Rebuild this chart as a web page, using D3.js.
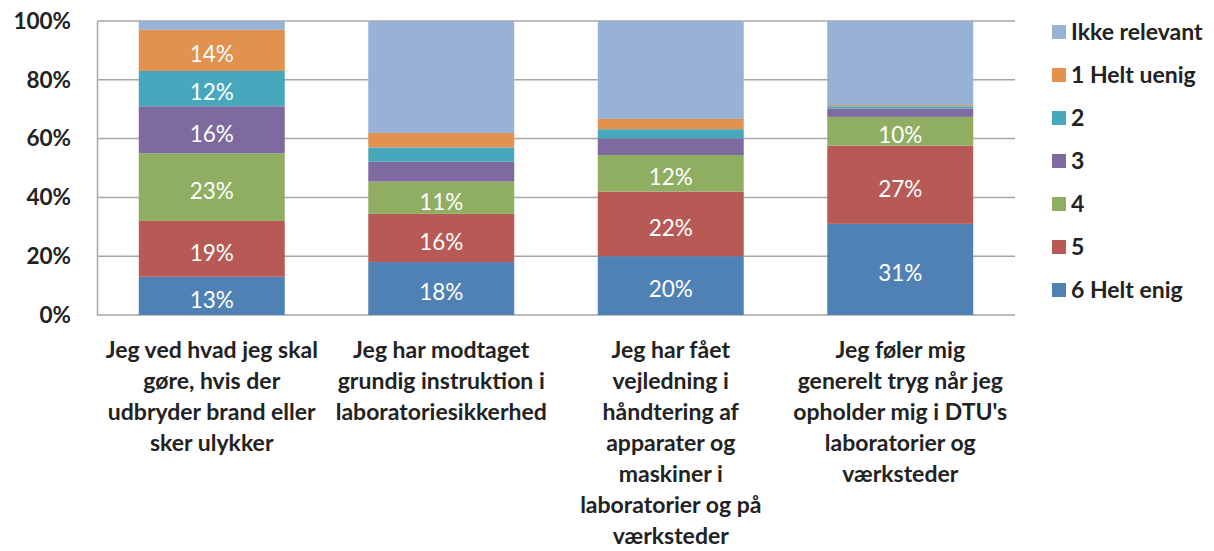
<!DOCTYPE html>
<html>
<head>
<meta charset="utf-8">
<script src="https://cdn.jsdelivr.net/npm/d3@7"></script>
<style>
  body { margin: 0; background: #fff; }
  svg { display: block; font-family: Lato, "Open Sans", sans-serif; }
</style>
</head>
<body>
<div id="chart"></div>
<script>
// Category labels, already broken into lines as in the original
var categories = [
    ["Jeg ved hvad jeg skal", "gøre, hvis der", "udbryder brand eller", "sker ulykker"],
    ["Jeg har modtaget", "grundig instruktion i", "laboratoriesikkerhed"],
    ["Jeg har fået", "vejledning i", "håndtering af", "apparater og", "maskiner i", "laboratorier og på", "værksteder"],
    ["Jeg føler mig", "generelt tryg når jeg", "opholder mig i DTU's", "laboratorier og", "værksteder"]
];

// Series, bottom to top of the stack
var seriesNames = ["6 Helt enig", "5", "4", "3", "2", "1 Helt uenig", "Ikke relevant"];
var seriesColors = ["#4f81b5", "#b75a55", "#8fae62", "#7e6a9e", "#47a8bd", "#e2914f", "#97b2d4"];

// Shares in percent, one value per category
var helt6 = [13, 18, 20, 31];
var val5 = [19, 16.4, 22, 26.6];
var val4 = [23, 11, 12.4, 9.8];
var val3 = [16, 6.7, 5.7, 2.8];
var val2 = [12, 4.9, 3.1, 0.8];
var uenig1 = [14, 4.9, 3.5, 0.4];
var ikkeRelevant = [3, 38.1, 33.3, 28.6];

var yTicks = [0, 20, 40, 60, 80, 100];

var svgWidth = 1214;
var svgHeight = 551;
var margin = { top: 21, right: 199, bottom: 236, left: 97 };
var chartWidth = svgWidth - margin.left - margin.right;
var chartHeight = svgHeight - margin.top - margin.bottom;

// Build rows for d3.stack
var columns = [helt6, val5, val4, val3, val2, uenig1, ikkeRelevant];
var rows = categories.map(function(c, i) {
    var row = { idx: i };
    seriesNames.forEach(function(s, j) { row[s] = columns[j][i]; });
    return row;
});
var stacked = d3.stack().keys(seriesNames)(rows);

var svg = d3.select("#chart").append("svg")
    .attr("width", svgWidth)
    .attr("height", svgHeight);

var chartGroup = svg.append("g")
    .attr("transform", `translate(${margin.left}, ${margin.top})`);

var xScale = d3.scaleBand()
    .domain(d3.range(categories.length))
    .range([0, chartWidth])
    .paddingInner(0.364)
    .paddingOuter(0.182);

var yScale = d3.scaleLinear()
    .domain([0, 100])
    .range([chartHeight, 0]);

// Gridlines
chartGroup.append("g")
    .selectAll("line")
    .data(yTicks)
    .enter().append("line")
    .attr("x1", 0)
    .attr("x2", chartWidth)
    .attr("y1", d => yScale(d))
    .attr("y2", d => yScale(d))
    .attr("stroke", "#a6a6a6")
    .attr("stroke-width", 1.5);

// Left axis
var leftAxis = d3.axisLeft(yScale)
    .tickValues(yTicks)
    .tickSize(0)
    .tickPadding(26)
    .tickFormat(d => d + "%");
var yAxis = chartGroup.append("g").call(leftAxis);
yAxis.select(".domain").attr("stroke", "#a6a6a6").attr("stroke-width", 1.5);
yAxis.selectAll("text")
    .attr("font-size", 22.5)
    .attr("font-weight", 700)
    .attr("font-family", "Lato, sans-serif")
    .attr("fill", "#222");

// Bars
var layers = chartGroup.selectAll(".layer")
    .data(stacked)
    .enter().append("g")
    .attr("class", "layer")
    .attr("fill", (d, i) => seriesColors[i]);

layers.selectAll("rect")
    .data(d => d)
    .enter().append("rect")
    .attr("x", d => xScale(d.data.idx))
    .attr("width", xScale.bandwidth())
    .attr("y", d => yScale(d[1]))
    .attr("height", d => yScale(d[0]) - yScale(d[1]));

// Value labels (only the larger rated segments)
layers.filter(d => d.key !== "Ikke relevant")
    .selectAll("text")
    .data(d => d.filter(p => p[1] - p[0] >= 9.5))
    .enter().append("text")
    .attr("x", d => xScale(d.data.idx) + xScale.bandwidth() / 2)
    .attr("y", d => yScale((d[0] + d[1]) / 2) + 4)
    .attr("dy", "0.35em")
    .attr("text-anchor", "middle")
    .attr("font-size", 22.5)
    .attr("fill", "#fff")
    .text(d => Math.round(d[1] - d[0]) + "%");

// Category labels
var catGroup = chartGroup.append("g");
categories.forEach(function(lines, i) {
    var t = catGroup.append("text")
        .attr("x", xScale(i) + xScale.bandwidth() / 2)
        .attr("y", chartHeight + 43)
        .attr("text-anchor", "middle")
        .attr("font-size", 23)
        .attr("font-weight", 700)
        .attr("fill", "#222");
    lines.forEach(function(line, k) {
        t.append("tspan")
            .attr("x", xScale(i) + xScale.bandwidth() / 2)
            .attr("dy", k === 0 ? 0 : 31)
            .text(line);
    });
});

// Legend, top entry is the top of the stack
var legend = svg.append("g")
    .attr("transform", "translate(1052, 32)");
var legendItems = legend.selectAll("g")
    .data(seriesNames.slice().reverse())
    .enter().append("g")
    .attr("transform", (d, i) => `translate(0, ${i * 43})`);
legendItems.append("rect")
    .attr("x", 0)
    .attr("y", -7)
    .attr("width", 14)
    .attr("height", 14)
    .attr("fill", d => seriesColors[seriesNames.indexOf(d)]);
legendItems.append("text")
    .attr("x", 19)
    .attr("y", 0)
    .attr("dy", "0.35em")
    .attr("font-size", 23)
    .attr("font-weight", 700)
    .attr("fill", "#222")
    .text(d => d);
</script>
</body>
</html>
